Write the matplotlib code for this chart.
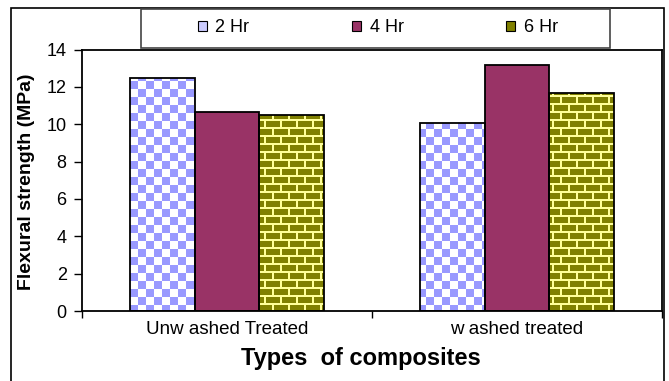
import numpy as np
import matplotlib
matplotlib.use('Agg')
import matplotlib.pyplot as plt
from matplotlib.patches import Rectangle, Patch
from matplotlib.colors import to_rgb

plt.rcParams['font.family'] = ['Liberation Sans', 'DejaVu Sans']

# values
categories = ['Unw ashed Treated', 'w ashed treated']
series = ['2 Hr', '4 Hr', '6 Hr']
hr2 = [12.5, 10.05]
hr4 = [10.65, 13.15]
hr6 = [10.5, 11.65]
yticks = [0, 2, 4, 6, 8, 10, 12, 14]

BLUE = '#9999ff'
PURPLE = '#993366'
OLIVE = '#808000'
MORTAR = '#ffff99'


def checker(h, w, size=8):
    ii, jj = np.indices((h, w))
    mask = (ii // size + jj // size) % 2 == 0
    return np.where(mask[..., None], to_rgb(BLUE), to_rgb('white'))


def brick(h, w):
    ii, jj = np.indices((h, w))
    row = ii // 8
    col = (jj + (row % 2) * 8) % 16
    mortar = (ii % 8 >= 6) | (col >= 14)
    return np.where(mortar[..., None], to_rgb(MORTAR), to_rgb(OLIVE))


fig = plt.figure(figsize=(6.69, 3.81), dpi=100)
ax = fig.add_axes([82 / 669, 70 / 381, 580 / 669, 261.5 / 381])

x = np.arange(len(categories))
width = 0.224
W, H = 580, 262
patterns = [checker(H, W), None, brick(H, W)]
colors = ['white', PURPLE, OLIVE]

for i, vals in enumerate([hr2, hr4, hr6]):
    pos = x + (i - 1) * width
    bars = ax.bar(pos, vals, width, color=colors[i], edgecolor='none', zorder=2)
    if patterns[i] is not None:
        for b in bars:
            im = ax.imshow(patterns[i], extent=(-0.5, 1.5, 0, 14), aspect='auto',
                           interpolation='nearest', zorder=2.5)
            im.set_clip_path(b)
    ax.bar(pos, vals, width, fill=False, edgecolor='black', linewidth=1.3, zorder=3)

ax.set_xlim(-0.5, 1.5)
ax.set_ylim(0, 14)
ax.set_yticks(yticks)
ax.tick_params(axis='y', direction='out', length=6, width=1, pad=5, labelsize=13)
ax.set_xticks([-0.5, 0.5, 1.5])
ax.set_xticklabels([])
ax.tick_params(axis='x', which='major', direction='out', length=5, width=1)
ax.set_xticks(x, minor=True)
ax.set_xticklabels(categories, minor=True, fontsize=13.5)
ax.tick_params(axis='x', which='minor', length=0, pad=7)
for s in ax.spines.values():
    s.set_linewidth(1.3)
    s.set_color('black')

fig.text(361 / 669, 1 - 358 / 381, 'Types  of composites', fontsize=17,
         fontweight='bold', ha='center', va='center')
fig.text(27 / 669, 1 - 182 / 381, 'Flexural strength (MPa)', fontsize=14,
         fontweight='bold', rotation=90, ha='center', va='center')

# outer chart border and legend box
fig.patches.append(Rectangle((11 / 669, -0.01), 653 / 669, 1 - 8 / 381 + 0.01,
                             transform=fig.transFigure, fill=False,
                             edgecolor='black', linewidth=1.2))
fig.patches.append(Rectangle((141 / 669, 1 - 48 / 381), 469 / 669, 39 / 381,
                             transform=fig.transFigure, fill=False,
                             edgecolor='#444444', linewidth=1.2, zorder=5))

handles = [Patch(facecolor='#ccccff', edgecolor='black', linewidth=0.8),
           Patch(facecolor=PURPLE, edgecolor='black', linewidth=0.8),
           Patch(facecolor=OLIVE, edgecolor='black', linewidth=0.8)]
fig.legend(handles, series, loc='center', bbox_to_anchor=(378 / 669, 1 - 28 / 381),
           ncol=3, frameon=False, fontsize=13, handlelength=0.5, handleheight=0.5,
           handletextpad=0.45, columnspacing=5.7, borderpad=0)

fig.savefig('out.png', dpi=100)
